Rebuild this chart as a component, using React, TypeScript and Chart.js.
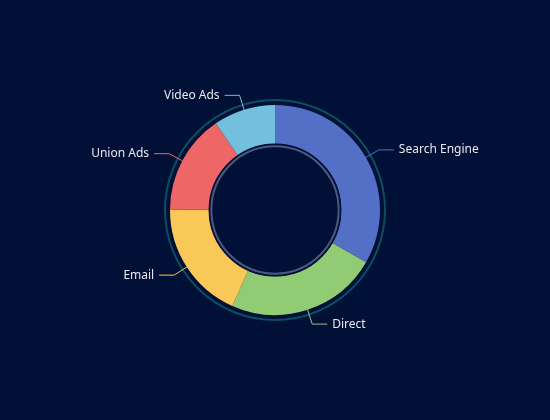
import React, { useEffect, useRef } from 'react';
import Chart from 'chart.js/auto';

// Traffic sources
const sourceLabels = ['Search Engine', 'Direct', 'Email', 'Union Ads', 'Video Ads'];
const sourceValues = [1048, 735, 580, 484, 300];
const sourceColors = ['#5470c6', '#91cc75', '#fac858', '#ee6666', '#73c0de'];

const BG = '#001036';

// outer and inner decorative rings + leader-line labels
const ringsAndLabels = {
  id: 'ringsAndLabels',
  afterDatasetsDraw(chart: any) {
    const meta = chart.getDatasetMeta(0);
    const ctx = chart.ctx as CanvasRenderingContext2D;
    if (!meta.data.length) return;
    const first = meta.data[0].getProps(['x', 'y', 'innerRadius', 'outerRadius'], true);
    const cx = first.x;
    const cy = first.y;

    ctx.save();
    // outer teal ring
    ctx.beginPath();
    ctx.arc(cx, cy, first.outerRadius + 5, 0, Math.PI * 2);
    ctx.strokeStyle = '#0d4d60';
    ctx.lineWidth = 2;
    ctx.stroke();

    // inner ring
    ctx.beginPath();
    ctx.arc(cx, cy, first.innerRadius - 0.5, 0, Math.PI * 2);
    ctx.strokeStyle = BG;
    ctx.lineWidth = 1.5;
    ctx.stroke();
    ctx.beginPath();
    ctx.arc(cx, cy, first.innerRadius - 2.5, 0, Math.PI * 2);
    ctx.strokeStyle = '#4d5880';
    ctx.lineWidth = 2;
    ctx.stroke();

    // labels
    ctx.font = '12px "Noto Sans", sans-serif';
    ctx.textBaseline = 'middle';
    meta.data.forEach((arc: any, i: number) => {
      const p = arc.getProps(['x', 'y', 'startAngle', 'endAngle', 'outerRadius'], true);
      const mid = (p.startAngle + p.endAngle) / 2;
      const cos = Math.cos(mid);
      const sin = Math.sin(mid);
      const x0 = p.x + cos * p.outerRadius;
      const y0 = p.y + sin * p.outerRadius;
      const x1 = p.x + cos * (p.outerRadius + 15);
      const y1 = p.y + sin * (p.outerRadius + 15);
      const dir = cos >= 0 ? 1 : -1;
      const x2 = x1 + dir * 15;
      ctx.beginPath();
      ctx.moveTo(x0, y0);
      ctx.lineTo(x1, y1);
      ctx.lineTo(x2, y1);
      ctx.strokeStyle = sourceColors[i];
      ctx.lineWidth = 1;
      ctx.stroke();
      ctx.fillStyle = '#e8e8ee';
      ctx.textAlign = dir > 0 ? 'left' : 'right';
      ctx.fillText(sourceLabels[i], x2 + dir * 5, y1);
    });
    ctx.restore();
  },
};

const App: React.FC = () => {
  const chartRef = useRef<HTMLCanvasElement>(null);

  useEffect(() => {
    document.body.style.margin = '0';
    document.body.style.background = BG;
    let chartInstance: Chart | null = null;
    if (chartRef.current) {
      chartInstance = new Chart(chartRef.current, {
        type: 'doughnut',
        data: {
          labels: sourceLabels,
          datasets: [
            {
              data: sourceValues,
              backgroundColor: sourceColors,
              borderWidth: 0,
            },
          ],
        },
        options: {
          animation: false,
          responsive: false,
          radius: 105,
          cutout: '63%',
          layout: { padding: 0 },
          plugins: {
            legend: { display: false },
            tooltip: { enabled: false },
          },
        },
        plugins: [ringsAndLabels],
      });
    }
    return () => {
      if (chartInstance) chartInstance.destroy();
    };
  }, []);

  return (
    <div style={{ width: 550, height: 420, background: BG }}>
      <canvas ref={chartRef} width={550} height={420} style={{ display: 'block' }}></canvas>
    </div>
  );
};

export default App;
